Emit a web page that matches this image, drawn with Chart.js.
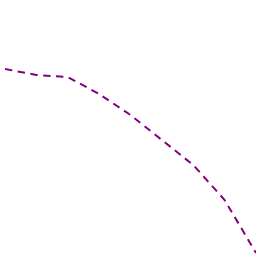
<!DOCTYPE html>
<html><head><meta charset="utf-8">
<script src="https://cdn.jsdelivr.net/npm/chart.js@4"></script>
<style>html,body{margin:0;padding:0;background:#fff}#w{width:256px;height:256px}</style>
</head><body><div id="w"><canvas id="c"></canvas></div>
<script>
const xValues = [0, 1, 2, 3, 4, 5, 6, 7, 8];
const yValues = [187, 181, 179, 162, 141, 116, 91, 56, 3];
new Chart(document.getElementById('c'), {
  type: 'line',
  data: {
    datasets: [{
      data: xValues.map((x, i) => ({x: x, y: yValues[i]})),
      borderColor: '#800080',
      borderWidth: 2,
      borderDash: [7.4, 5.5],
      pointRadius: 0,
      fill: false,
      tension: 0
    }]
  },
  options: {
    responsive: true,
    maintainAspectRatio: false,
    animation: false,
    layout: {padding: 0},
    plugins: {legend: {display: false}, tooltip: {enabled: false}},
    scales: {
      x: {type: 'linear', display: false, min: -0.16, max: 8},
      y: {display: false, min: 0, max: 256}
    }
  }
});
</script></body></html>
